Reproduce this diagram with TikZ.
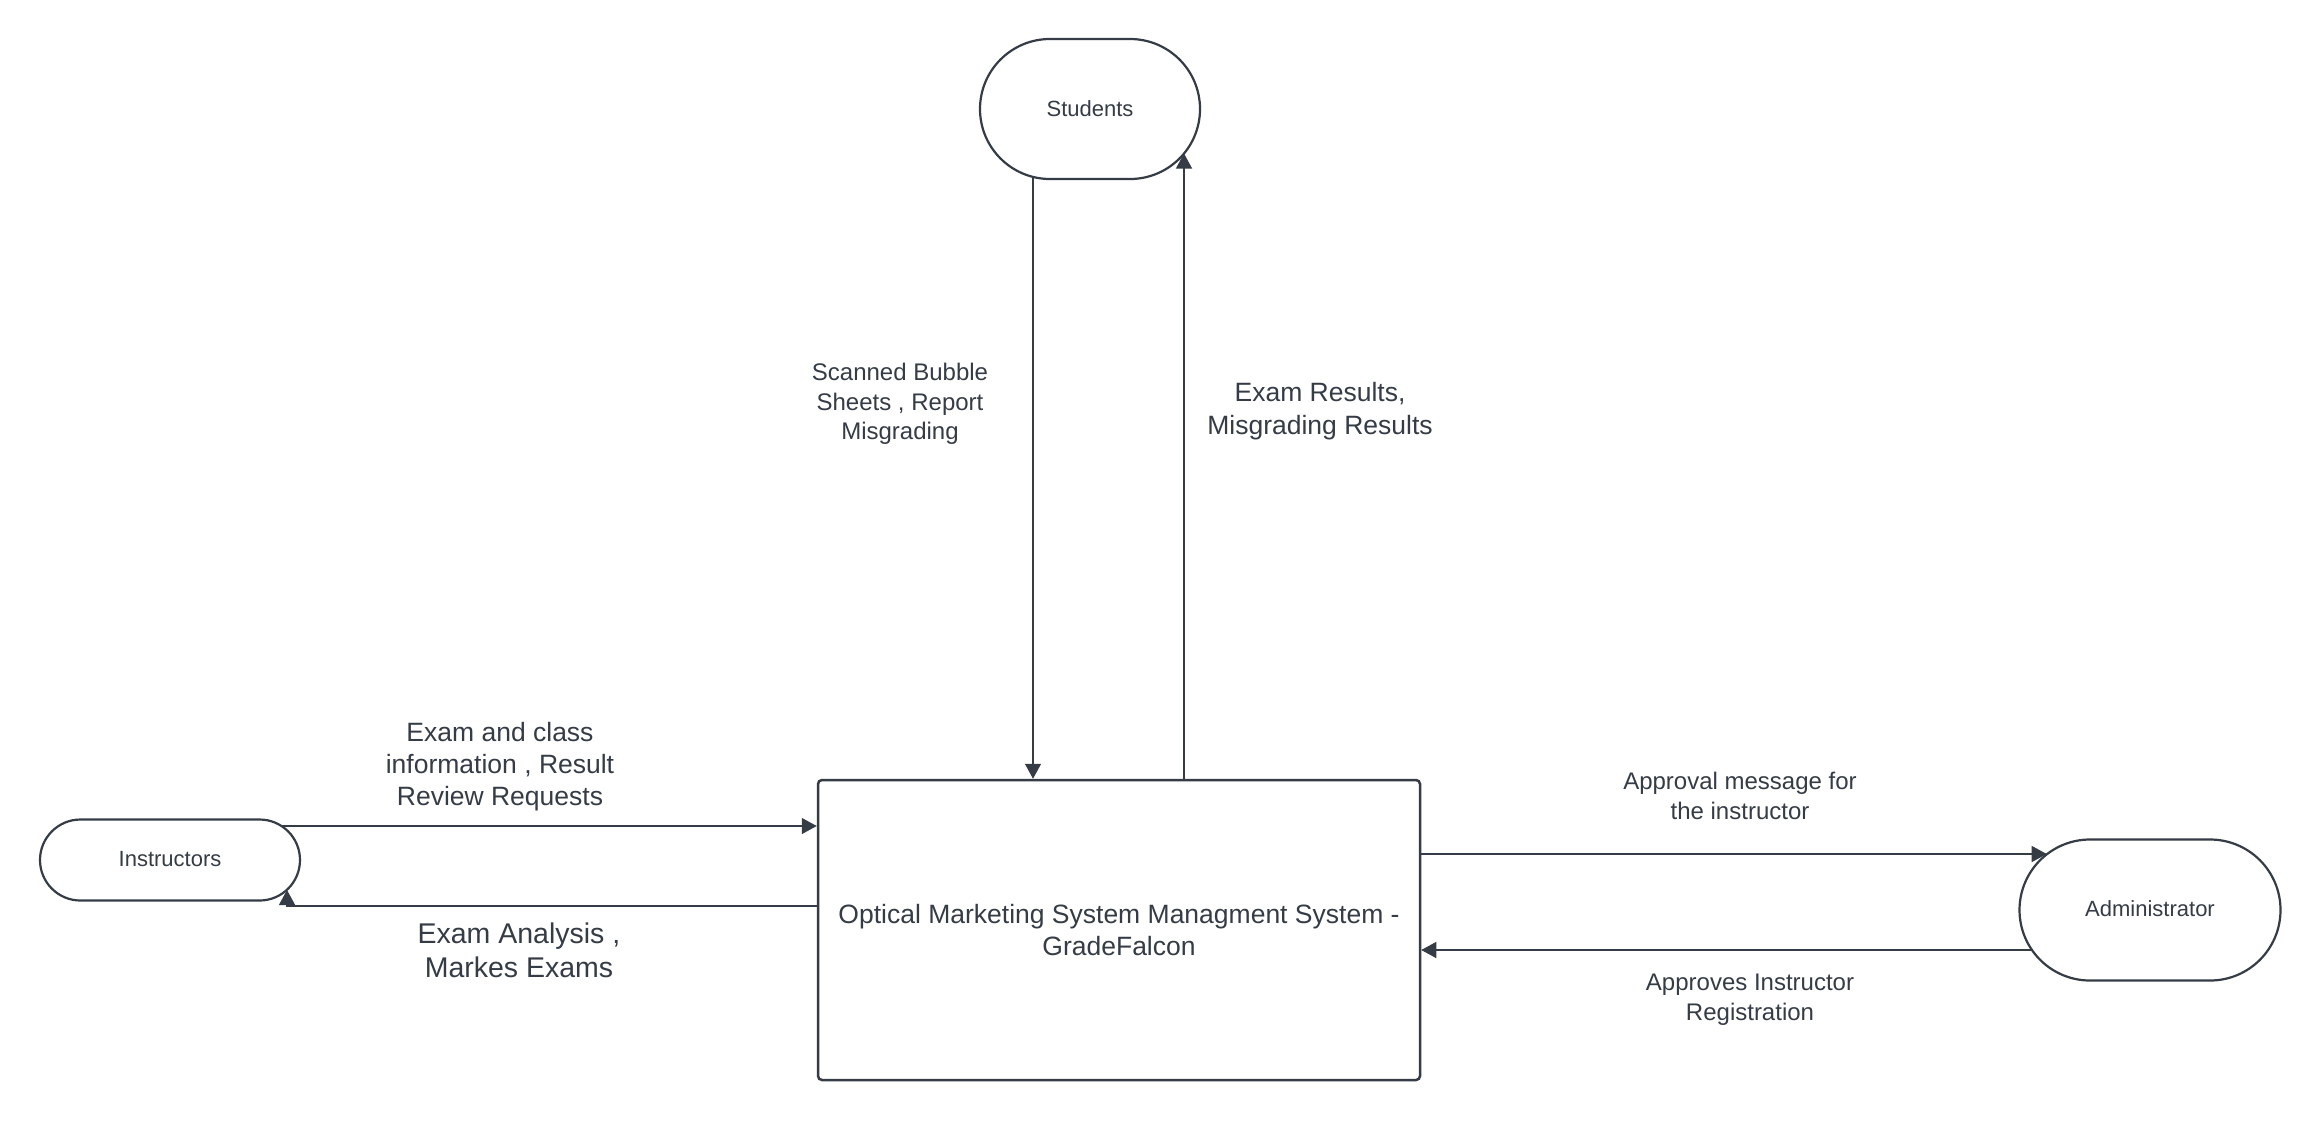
\documentclass[tikz,border=0pt]{standalone}
\usepackage{fontspec}
\setmainfont{Liberation Sans}
\usetikzlibrary{arrows.meta}
\definecolor{ink}{HTML}{353C46}
\begin{document}
\begin{tikzpicture}[x=1pt,y=1pt,
  term/.style={draw=ink, line width=2.2pt, fill=white, text=ink, font=\fontsize{22}{26}\selectfont, inner sep=0pt},
  proc/.style={draw=ink, line width=2.5pt, rounded corners=4pt, text=ink, align=center, font=\fontsize{26.5}{32.5}\selectfont, minimum width=602pt, minimum height=300pt, inner sep=0pt},
  flow/.style={draw=ink, line width=1.3pt, -{Triangle[length=15pt,width=16pt]}},
  lbl/.style={text=ink, align=center, inner sep=0pt}]
\useasboundingbox (0,0) rectangle (2320,-1120);
\fill[white] (0,0) rectangle (2320,-1120);
\node[term, minimum width=220pt, minimum height=140pt, rounded corners=70pt] (stu) at (1090,-109) {\raisebox{1pt}{Students}};
\node[term, minimum width=260pt, minimum height=81pt, rounded corners=40.5pt] (ins) at (170,-860) {\raisebox{3pt}{Instructors}};
\node[term, minimum width=261pt, minimum height=141pt, rounded corners=70.5pt] (adm) at (2150,-910) {\raisebox{3pt}{Administrator}};
\node[proc] (sys) at (1119,-930) {\raisebox{3pt}{\parbox{600pt}{\centering Optical Marketing System Managment System -\\GradeFalcon}}};

\draw[flow] ([xshift=-57pt,yshift=2pt]stu.south) coordinate (s1) -- (s1 |- sys.north);
\coordinate (s2) at ([shift={(94pt,-44.5pt)}]stu.center);
\draw[flow] (s2 |- sys.north) -- (s2);

\coordinate (i1) at ([shift={(111.5pt,34pt)}]ins.center);
\draw[flow] (i1) -- (i1 -| sys.west);
\coordinate (i2) at ([shift={(117pt,-30pt)}]ins.center);
\draw[flow] ([yshift=24pt]sys.west) -| (i2);

\coordinate (a1) at ([shift={(-103.3pt,56pt)}]adm.center);
\draw[flow] (a1 -| sys.east) -- (a1);
\coordinate (a2) at ([shift={(-118.5pt,-40pt)}]adm.center);
\draw[flow] (a2) -- (a2 -| sys.east);

\node[lbl, font=\fontsize{24}{29.5}\selectfont] (l1) at (900,-404) {Scanned Bubble\\Sheets , Report\\Misgrading};
\node[lbl, font=\fontsize{26.5}{32.5}\selectfont] (l2) at (1320,-411) {Exam Results,\\Misgrading Results};
\node[lbl, font=\fontsize{26.5}{32}\selectfont] (l3) at (500,-767) {Exam and class\\information , Result\\Review Requests};
\node[lbl, font=\fontsize{28.5}{34}\selectfont] (l4) at (519,-950) {Exam Analysis ,\\Markes Exams};
\node[lbl, font=\fontsize{24}{30}\selectfont] (l5) at (1740,-796) {Approval message for\\the instructor};
\node[lbl, font=\fontsize{24}{30}\selectfont] (l6) at (1750,-1000) {Approves Instructor\\Registration};
\end{tikzpicture}
\end{document}
